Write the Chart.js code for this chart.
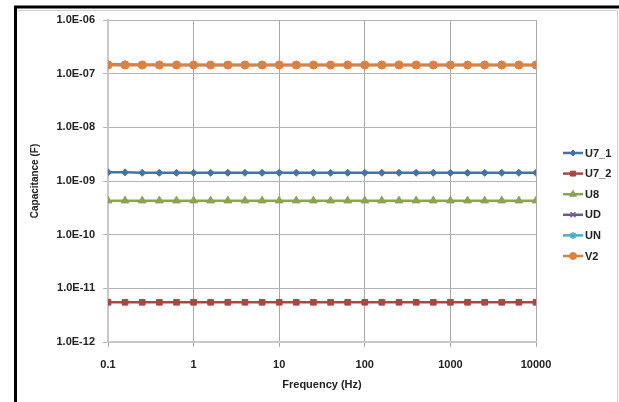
<!DOCTYPE html>
<html>
<head>
<meta charset="utf-8">
<script src="https://cdn.jsdelivr.net/npm/chart.js@4.4.0/dist/chart.umd.min.js"></script>
<style>
  html, body { margin: 0; padding: 0; background: #fff; }
  #wrap { width: 619px; height: 402px; }
</style>
</head>
<body>
<div id="wrap"><canvas id="chart" width="619" height="402"></canvas></div>
<script>
// frequency points (Hz), 5 per decade
const freq = [0.1, 0.158, 0.251, 0.398, 0.631, 1, 1.58, 2.51, 3.98, 6.31,
              10, 15.8, 25.1, 39.8, 63.1, 100, 158, 251, 398, 631,
              1000, 1585, 2512, 3981, 6310, 10000];

const xTicks = [0.1, 1, 10, 100, 1000, 10000];
const yTicks = [1e-12, 1e-11, 1e-10, 1e-9, 1e-8, 1e-7, 1e-6];

const seriesNames = ['U7_1', 'U7_2', 'U8', 'UD', 'UN', 'V2'];

const u7_1 = [1.46e-9, 1.45e-9, 1.42e-9, 1.42e-9, 1.42e-9, 1.42e-9, 1.42e-9, 1.42e-9, 1.42e-9, 1.42e-9,
              1.42e-9, 1.42e-9, 1.42e-9, 1.42e-9, 1.42e-9, 1.42e-9, 1.42e-9, 1.42e-9, 1.42e-9, 1.42e-9,
              1.42e-9, 1.42e-9, 1.42e-9, 1.42e-9, 1.42e-9, 1.42e-9];
const u7_2 = [5.5e-12, 5.5e-12, 5.5e-12, 5.5e-12, 5.5e-12, 5.5e-12, 5.5e-12, 5.5e-12, 5.5e-12, 5.5e-12,
              5.5e-12, 5.5e-12, 5.5e-12, 5.5e-12, 5.5e-12, 5.5e-12, 5.5e-12, 5.5e-12, 5.5e-12, 5.5e-12,
              5.5e-12, 5.5e-12, 5.5e-12, 5.5e-12, 5.5e-12, 5.5e-12];
const u8   = [4.3e-10, 4.3e-10, 4.3e-10, 4.3e-10, 4.3e-10, 4.3e-10, 4.3e-10, 4.3e-10, 4.3e-10, 4.3e-10,
              4.3e-10, 4.3e-10, 4.3e-10, 4.3e-10, 4.3e-10, 4.3e-10, 4.3e-10, 4.3e-10, 4.3e-10, 4.3e-10,
              4.3e-10, 4.3e-10, 4.3e-10, 4.3e-10, 4.3e-10, 4.3e-10];
const ud   = [1.45e-7, 1.45e-7, 1.45e-7, 1.45e-7, 1.45e-7, 1.45e-7, 1.45e-7, 1.45e-7, 1.45e-7, 1.45e-7,
              1.45e-7, 1.45e-7, 1.45e-7, 1.45e-7, 1.45e-7, 1.45e-7, 1.45e-7, 1.45e-7, 1.45e-7, 1.45e-7,
              1.45e-7, 1.45e-7, 1.45e-7, 1.45e-7, 1.45e-7, 1.45e-7];
const un   = [1.51e-7, 1.49e-7, 1.47e-7, 1.46e-7, 1.45e-7, 1.45e-7, 1.45e-7, 1.45e-7, 1.45e-7, 1.45e-7,
              1.45e-7, 1.45e-7, 1.45e-7, 1.45e-7, 1.45e-7, 1.45e-7, 1.45e-7, 1.45e-7, 1.45e-7, 1.45e-7,
              1.45e-7, 1.45e-7, 1.45e-7, 1.45e-7, 1.45e-7, 1.45e-7];
const v2   = [1.45e-7, 1.45e-7, 1.45e-7, 1.45e-7, 1.45e-7, 1.45e-7, 1.45e-7, 1.45e-7, 1.45e-7, 1.45e-7,
              1.45e-7, 1.45e-7, 1.45e-7, 1.45e-7, 1.45e-7, 1.45e-7, 1.45e-7, 1.45e-7, 1.45e-7, 1.45e-7,
              1.45e-7, 1.45e-7, 1.45e-7, 1.45e-7, 1.45e-7, 1.45e-7];

const seriesValues = [u7_1, u7_2, u8, ud, un, v2];
const colors = ['#4572A7', '#AA4643', '#89A54E', '#71588F', '#4BACC6', '#E0803A'];
const markers = ['rectRot', 'rect', 'triangle', 'crossRot', 'star', 'circle'];
const radii = [3.5, 4, 4.5, 4, 4, 4];
const drawOrder = [2, 3, 4, 5, 1, 0];

const FONT = '"Liberation Sans", Arial, sans-serif';

function fmtExp(v) {
    const e = Math.round(Math.log10(v));
    const s = e < 0 ? '-' : '+';
    const a = Math.abs(e);
    return '1.0E' + s + (a < 10 ? '0' + a : a);
}

const datasets = seriesNames.map((name, i) => ({
    label: name,
    data: freq.map((f, j) => ({ x: f, y: seriesValues[i][j] })),
    borderColor: colors[i],
    backgroundColor: colors[i],
    borderWidth: 2.5,
    pointStyle: markers[i],
    pointRadius: radii[i],
    pointBorderWidth: markers[i] === 'crossRot' || markers[i] === 'star' ? 1.5 : 1,
    order: drawOrder[i],
    tension: 0
}));

// frame + custom legend (line with marker, like the original)
const framePlugin = {
    id: 'frame',
    beforeDraw(chart) {
        const ctx = chart.ctx;
        ctx.save();
        ctx.fillStyle = '#fff';
        ctx.fillRect(0, 0, chart.width, chart.height);
        ctx.strokeStyle = '#d0d0d0';
        ctx.lineWidth = 1;
        ctx.beginPath();
        ctx.moveTo(17, 10.5); ctx.lineTo(617.5, 10.5); ctx.lineTo(617.5, 402);
        ctx.stroke();
        ctx.strokeStyle = '#000';
        ctx.lineWidth = 3;
        ctx.beginPath();
        ctx.moveTo(15.5, 402); ctx.lineTo(15.5, 7); ctx.lineTo(619, 7);
        ctx.stroke();
        ctx.restore();
    },
    afterDraw(chart) {
        const ctx = chart.ctx;
        ctx.save();
        chart.data.datasets.forEach((ds, i) => {
            const y = 153 + i * 20.6;
            ctx.strokeStyle = ds.borderColor;
            ctx.fillStyle = ds.borderColor;
            ctx.lineWidth = 2.5;
            ctx.beginPath();
            ctx.moveTo(563, y); ctx.lineTo(583, y);
            ctx.stroke();
            ctx.lineWidth = ds.pointBorderWidth;
            Chart.helpers.drawPoint(ctx, { pointStyle: ds.pointStyle, radius: ds.pointRadius - 0.5, rotation: 0, borderWidth: ds.pointBorderWidth }, 573, y);
            ctx.fillStyle = '#222';
            ctx.font = 'bold 11px ' + FONT;
            ctx.textAlign = 'left';
            ctx.textBaseline = 'middle';
            ctx.fillText(ds.label, 585, y + 0.5);
        });
        ctx.restore();
    }
};

new Chart(document.getElementById('chart'), {
    type: 'line',
    data: { datasets },
    options: {
        responsive: false,
        animation: false,
        layout: { padding: { left: 0, top: 20, right: 83, bottom: 0 } },
        plugins: { legend: { display: false }, tooltip: { enabled: false } },
        scales: {
            x: {
                type: 'logarithmic',
                min: 0.1,
                max: 10000,
                afterBuildTicks: (scale) => { scale.ticks = xTicks.map(v => ({ value: v })); },
                afterFit: (scale) => { scale.height = 60; },
                ticks: {
                    autoSkip: false,
                    maxRotation: 0,
                    padding: 11,
                    color: '#222',
                    font: { family: FONT, size: 11, weight: 'bold' },
                    callback: (v) => String(v)
                },
                grid: { color: '#a8a8a8', lineWidth: 1, tickLength: 5 },
                border: { color: '#c8c8c8', width: 2 },
                title: {
                    display: true,
                    text: 'Frequency (Hz)',
                    color: '#222',
                    font: { family: FONT, size: 11, weight: 'bold' },
                    padding: { top: 0, bottom: 10 }
                }
            },
            y: {
                type: 'logarithmic',
                min: 1e-12,
                max: 1e-6,
                afterBuildTicks: (scale) => { scale.ticks = yTicks.map(v => ({ value: v })); },
                afterFit: (scale) => { scale.width = 108; },
                ticks: {
                    autoSkip: false,
                    padding: 8,
                    color: '#222',
                    font: { family: FONT, size: 11, weight: 'bold' },
                    callback: (v) => fmtExp(v)
                },
                grid: { color: '#b4b4b4', lineWidth: 1, tickLength: 5 },
                border: { color: '#c8c8c8', width: 2 },
                title: {
                    display: true,
                    text: 'Capacitance (F)',
                    color: '#222',
                    font: { family: FONT, size: 10, weight: 'bold' },
                    padding: { top: 29, bottom: 0 }
                }
            }
        }
    },
    plugins: [framePlugin]
});
</script>
</body>
</html>
